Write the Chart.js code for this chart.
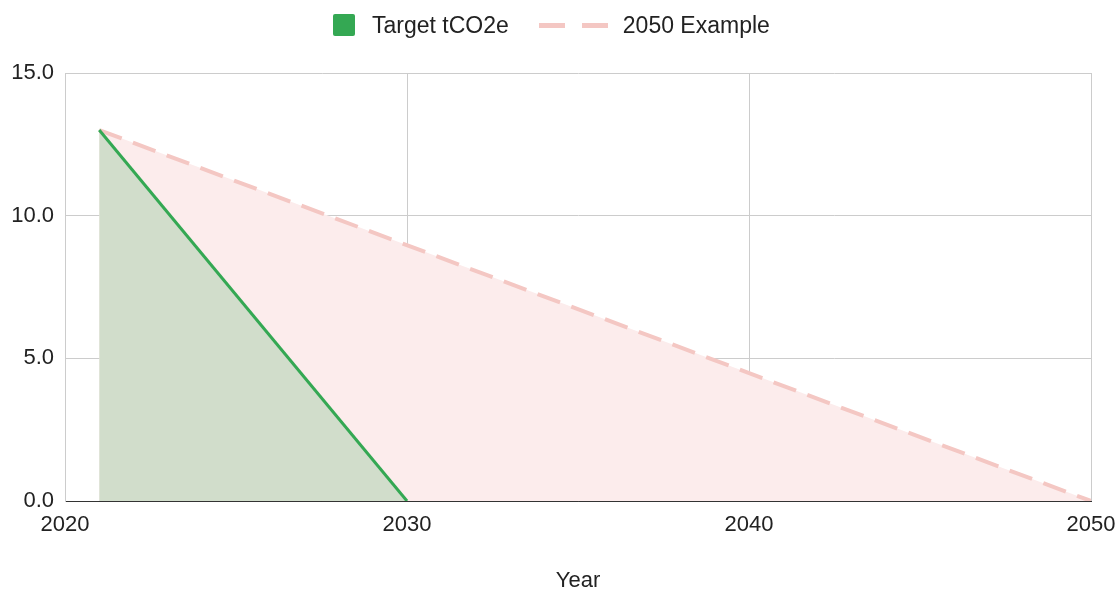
<!DOCTYPE html>
<html>
<head>
<meta charset="utf-8">
<script src="https://cdn.jsdelivr.net/npm/chart.js@4"></script>
<style>
  body { margin: 0; background: #fff; }
  #wrap { width: 1119px; height: 590px; position: relative; }
  #legend {
    position: absolute; left: 333px; top: 14px; height: 22px;
    display: flex; align-items: center;
    font-family: Arial, "Liberation Sans", sans-serif; font-size: 23px; color: #222;
  }
  .box { width: 22px; height: 22px; border-radius: 2px; background: #34a853; margin-right: 17px; }
  .dash { width: 26px; height: 5px; background: #f4c7c3; }
  .gap1 { width: 30px; }
  .gap2 { width: 17px; }
  .gap3 { width: 15px; }
</style>
</head>
<body>
<div id="wrap">
  <div id="legend"></div>
  <canvas id="emissions-plot"></canvas>
</div>
<script>
var seriesNames = ["Target tCO2e", "2050 Example"];
var targetYears = [2021, 2030];
var targetValues = [13, 0];
var exampleYears = [2021, 2050];
var exampleValues = [13, 0];
var xTicks = [2020, 2030, 2040, 2050];
var yTicks = [0, 5, 10, 15];

var font = "Arial, 'Liberation Sans', sans-serif";

// html legend, the second series gets a dashed symbol
document.getElementById("legend").innerHTML = `
  <span class="box"></span><span>${seriesNames[0]}</span>
  <span class="gap1"></span><span class="dash"></span><span class="gap2"></span><span class="dash"></span>
  <span class="gap3"></span><span>${seriesNames[1]}</span>`;

new Chart("emissions-plot", {
  type: "line",
  data: {
    datasets: [{
      label: seriesNames[0],
      data: targetYears.map((x, i) => ({ x: x, y: targetValues[i] })),
      borderColor: "#34a853",
      backgroundColor: "#d1ddcb",
      borderWidth: 3,
      pointRadius: 0,
      fill: "origin"
    }, {
      label: seriesNames[1],
      data: exampleYears.map((x, i) => ({ x: x, y: exampleValues[i] })),
      borderColor: "#f4c7c3",
      backgroundColor: "#fcecec",
      borderWidth: 4,
      borderDash: [24, 12],
      pointRadius: 0,
      fill: "origin"
    }]
  },
  options: {
    responsive: true,
    maintainAspectRatio: false,
    animation: false,
    layout: { padding: { left: 0, right: 28, top: 73, bottom: 0 } },
    plugins: {
      legend: { display: false },
      tooltip: { enabled: false }
    },
    scales: {
      x: {
        type: "linear",
        min: 2020,
        max: 2050,
        afterBuildTicks: (s) => { s.ticks = xTicks.map(v => ({ value: v })); },
        afterFit: (s) => { s.height = 89; s.paddingLeft = 0; s.paddingRight = 0; },
        ticks: {
          color: "#222",
          padding: 11,
          maxRotation: 0,
          font: { family: font, size: 22 },
          callback: (v) => String(v)
        },
        grid: { color: "#cccccc", drawTicks: false },
        border: { color: "#333333", width: 1 },
        title: {
          display: true,
          text: "Year",
          color: "#222",
          padding: { top: 34, bottom: -4 },
          font: { family: font, size: 22 }
        }
      },
      y: {
        min: 0,
        max: 15,
        afterBuildTicks: (s) => { s.ticks = yTicks.map(v => ({ value: v })); },
        afterFit: (s) => { s.width = 65; s.paddingTop = 0; s.paddingBottom = 0; },
        ticks: {
          color: "#222",
          padding: 11,
          font: { family: font, size: 22 },
          callback: (v) => v.toFixed(1)
        },
        grid: {
          color: (ctx) => ctx.tick && ctx.tick.value === 0 ? "#333333" : "#cccccc",
          drawTicks: false
        },
        border: { color: "#cccccc" }
      }
    }
  }
});
</script>
</body>
</html>
